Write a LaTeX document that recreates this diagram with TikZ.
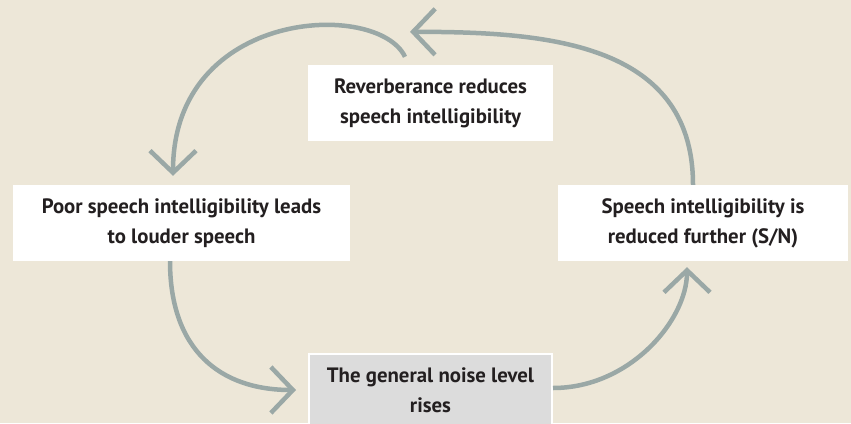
\documentclass[tikz,border=0pt]{standalone}
\usepackage{fontspec}
\setmainfont{PT Sans}
\usetikzlibrary{arrows.meta,calc}
\definecolor{bgbeige}{HTML}{EDE7D8}
\definecolor{loopgray}{HTML}{9AA8A6}
\definecolor{boxgray}{HTML}{DCDCDC}
\definecolor{inkdark}{HTML}{231F20}
\tikzset{>={Straight Barb[length=22pt,width=46pt]}}
\tikzset{
  stagebox/.style={fill=white, text=inkdark, align=center, minimum height=76pt,
    inner sep=0pt, font=\bfseries\fontsize{20.8}{30}\selectfont},
  loop/.style={->, draw=loopgray, line width=4.5pt}
}

\begin{document}
\begin{tikzpicture}[x=1pt,y=-1pt]

  \useasboundingbox[fill=bgbeige] (0,0) rectangle (851,423);

  %% the four stages
  \node[stagebox, minimum width=245pt] (reverb) at (430.5,103)
    {Reverberance reduces\\speech intelligibility};
  \node[stagebox, minimum width=337pt] (louder) at (181.5,223)
    {Poor speech intelligibility leads\\to louder speech};
  \node[stagebox, minimum width=290pt] (further) at (703,223)
    {Speech intelligibility is\\reduced further (S/N)};
  \node[stagebox, fill=boxgray, draw=white, line width=2pt,
    minimum width=243pt, minimum height=72pt] (noise) at (430.5,390)
    {The general noise level\\rises};

  %% the loop
  \draw[loop] ([xshift=-25.5pt,yshift=8pt]reverb.north)
    .. controls (378,0) and (173,8) .. ([xshift=-8.5pt,yshift=9pt]louder.north); % reverb -> louder
  \draw[loop] ([xshift=-11.5pt]louder.south)
    .. controls (170,350) and (220,390) .. ([xshift=-12pt]noise.west); % louder -> noise
  \draw[loop] ([yshift=2pt]noise.east)
    .. controls (630,388) and (687,320) .. ([xshift=-16pt,yshift=-6pt]further.south); % noise -> further
  \draw[loop] ([xshift=-10pt]further.north)
    .. controls (693,40) and (540,32) .. ([xshift=-20.5pt,yshift=33pt]reverb.north); % further -> reverb

\end{tikzpicture}
\end{document}
